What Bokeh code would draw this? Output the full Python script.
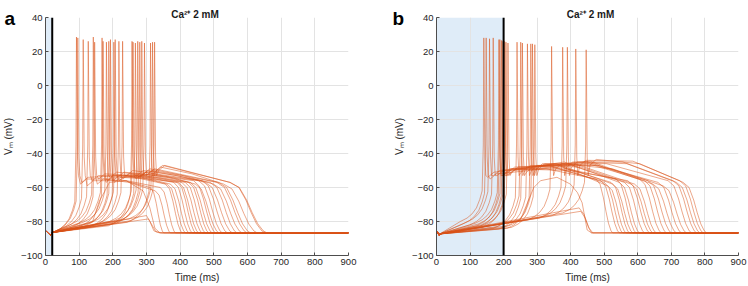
from bokeh.plotting import figure
from bokeh.layouts import row
from bokeh.models import Range1d, FixedTicker, Span, Label
from bokeh.embed import file_html
from bokeh.resources import INLINE

# ---------------------------------------------------------------- data
X_TICKS = [0, 100, 200, 300, 400, 500, 600, 700, 800, 900]
Y_TICKS = [-100, -80, -60, -40, -20, 0, 20, 40]
TITLE = "Ca²⁺ 2 mM"
REST = -86.7

# panel a: stimulation window 0-20 ms
A_STIM_END = 20
A_START_T = [0, 15, 20]
A_START_V = [-85.3, -88.2, -86.5]
A_SPIKE_T = [92, 96, 112, 127, 142, 146, 168, 171, 181, 188, 193, 203, 207,
             218, 229, 257, 260, 267, 274, 280, 286, 294, 312, 318, 324]
A_PEAK = [28.5, 28, 27, 26, 28.5, 25.5, 28, 26, 25.5, 26, 27, 25.5, 27,
          26, 26, 26, 25.5, 25, 26, 25.5, 26, 25, 25, 25.5, 25.5]
# membrane potential where the pre-spike depolarisation leaves the ramp
A_KNEE = [-86.5, -86, -84.5, -83.5, -82, -83.5, -81, -83, -80.5, -82.5, -81.5, -83, -80.5,
          -82, -81, -82.5, -80, -81.5, -79.5, -81, -80, -79, -80.5, -78.5, -79.5]
A_PLAT_START = [-55, -54, -56, -53, -55, -52, -54, -53, -51, -53, -54, -51, -53,
                -52, -50, -52, -50, -51, -50, -49, -50, -49, -48, -47, -47]
A_PLAT_MID = [-55, -53, -56, -53, -57, -53, -54, -54, -53, -54, -55, -53, -54,
              -54, -53, -54, -53, -54, -53, -53, -53, -53, -52, -52, -52]
A_PLAT_END = [-60, -58, -60, -57, -62, -57, -58, -58, -56, -57, -57, -56, -57,
              -57, -56, -57, -57, -58, -57, -57, -58, -57, -58, -57, -57]
A_END_T = [351, 406, 386, 436, 371, 465, 416, 426, 505, 446, 455, 525, 475,
           485, 540, 495, 569, 515, 555, 599, 584, 609, 629, 653, 658]
A_FALL = [40, 50, 45, 55, 45, 60, 55, 55, 65, 55, 60, 70, 60,
          60, 75, 65, 80, 70, 80, 90, 85, 95, 100, 105, 110]
# subthreshold responses (no spike)
A_SUB_T = [[20, 300, 310, 322, 338],
           [20, 306, 316, 328, 346],
           [20, 140, 160, 190, 240, 290, 310, 325, 340]]
A_SUB_V = [[-86.5, -76.5, -80, -85.5, REST],
           [-86.5, -78.5, -82, -86, REST],
           [-86.5, -80, -68, -57, -56, -62, -72, -84, REST]]

# panel b: stimulation window 0-200 ms
B_STIM_END = 200
B_START_T = [0, 8, 10]
B_START_V = [-85.3, -88, -87.3]
B_SPIKE_T = [141, 148, 158, 169, 186, 189, 194, 198, 203, 207, 213, 240,
             251, 256, 271, 281, 286, 293, 343, 376, 390, 415, 446]
B_PEAK = [28, 28, 27.5, 28, 27, 27, 26.5, 26, 26, 25.5, 25, 25.5,
          25.5, 25, 24.5, 24.5, 24.5, 24, 23, 22.5, 22.5, 21.5, 21]
B_KNEE = [-80, -81.5, -80.5, -82, -81, -82.5, -81.5, -83, -82, -83.5, -82, -84,
          -83, -84.5, -83.5, -84, -82.5, -83.5, -79, -78, -77, -76.5, -75]
B_PLAT_START = [-51, -52, -50, -50, -50, -49, -49, -50, -48, -49, -48, -48,
                -47, -48, -47, -47, -46, -46, -46, -45, -45, -44, -43.5]
B_PLAT_MID = [-47, -49, -46, -48, -45, -47, -50, -48, -46, -49, -47, -45,
              -48, -46, -47, -44.5, -47, -46, -49, -45, -46, -44.5, -46]
B_PLAT_END = [-57, -55, -58, -56, -57, -59, -56, -57, -58, -55, -57, -56,
              -58, -56, -57, -55, -58, -56, -59, -56, -57, -56, -57]
B_END_T = [555, 525, 585, 545, 605, 565, 635, 575, 655, 595, 620, 700,
           645, 685, 730, 670, 715, 760, 745, 775, 785, 795, 805]
B_FALL = [55, 50, 60, 55, 60, 55, 65, 55, 65, 60, 60, 70,
          65, 65, 70, 65, 70, 70, 70, 70, 70, 70, 70]
B_SUB_T = [[10, 425, 440, 452, 462],
           [10, 430, 443, 455, 466],
           [10, 250, 271, 290, 310, 359, 399, 420, 434, 449, 462]]
B_SUB_V = [[-87.3, -72, -76, -83, REST],
           [-87.3, -74, -78, -84, REST],
           [-87.3, -79, -69, -60, -56, -54, -58, -63, -69, -85, REST]]

# ---------------------------------------------------------------- trace shape
# pre-spike depolarisation vertices relative to spike time / knee potential
PRE_DT = [-70, -50, -35, -22, -12, -5]
PRE_DV = [0, 2, 4.5, 8, 13, 18]
# repolarisation profile: fraction of fall duration -> fraction of drop
FALL_TF = [0, 0.25, 0.45, 0.6, 0.75, 0.9, 1.0]
FALL_VF = [0, 0.1, 0.35, 0.6, 0.82, 0.96, 1.0]

TRACE_COLOR = "#D95319"
FONT = "Liberation Sans"


def spiking_trace(start_t, start_v, ts, peak, knee, p1, pm, p2, te, fall):
    t = list(start_t)
    v = list(start_v)
    for dt, dv in zip(PRE_DT, PRE_DV):
        if ts + dt > start_t[-1] + 1:
            t.append(ts + dt)
            v.append(knee + dv)
    t += [ts - 1.5, ts, ts + 1.2, ts + 3, ts + 6, ts + 12, ts + 30]
    v += [-35, peak, 0, -42, -53, p1 - 3, p1]
    fs = te - fall
    t += [(ts + 30 + fs) / 2]
    v += [pm]
    for tf, vf in zip(FALL_TF, FALL_VF):
        t.append(fs + tf * fall)
        v.append(p2 + vf * (REST - p2))
    t.append(900)
    v.append(REST)
    return t, v


def collect(start_t, start_v, spike_t, peak, knee, p1, pm, p2, end_t, fall, sub_t, sub_v):
    xs, ys = [], []
    for i in range(len(spike_t)):
        t, v = spiking_trace(start_t, start_v, spike_t[i], peak[i], knee[i],
                             p1[i], pm[i], p2[i], end_t[i], fall[i])
        xs.append(t)
        ys.append(v)
    for st, sv in zip(sub_t, sub_v):
        xs.append(list(start_t[:-1]) + st + [900])
        ys.append(list(start_v[:-1]) + sv + [REST])
    return xs, ys


def make_panel(left, right, stim_end, title_x, xs, ys):
    p = figure(width=374, height=286, output_backend="svg", toolbar_location=None,
               x_range=Range1d(0, 900), y_range=Range1d(-100, 40),
               min_border_left=left, min_border_right=right,
               min_border_top=17, min_border_bottom=31)
    p.outline_line_color = None
    p.background_fill_color = "white"
    p.border_fill_color = "white"

    # stimulation window
    p.quad(left=[0], right=[stim_end], bottom=[-100], top=[40],
           fill_color="#DFECF8", line_color=None, level="image")

    p.multi_line(xs, ys, line_color=TRACE_COLOR, line_width=0.65, line_alpha=0.78)

    p.add_layout(Span(location=stim_end, dimension="height",
                      line_color="black", line_width=2))

    for ax in (p.xaxis[0], p.yaxis[0]):
        ax.axis_line_color = "#4D4D4D"
        ax.major_tick_line_color = "#4D4D4D"
        ax.major_tick_in = 3
        ax.major_tick_out = 0
        ax.minor_tick_line_color = None
        ax.major_label_text_font = FONT
        ax.major_label_text_font_size = "9.5px"
        ax.major_label_text_color = "#262626"
        ax.axis_label_text_font = FONT
        ax.axis_label_text_font_size = "10px"
        ax.axis_label_text_font_style = "normal"
        ax.axis_label_text_color = "#262626"
        ax.major_label_standoff = 3
        ax.axis_label_standoff = 4
    p.xaxis.ticker = FixedTicker(ticks=X_TICKS)
    p.yaxis.ticker = FixedTicker(ticks=Y_TICKS)
    p.xaxis.axis_label = "Time (ms)"
    p.yaxis.axis_label = "Vₘ (mV)"
    p.xgrid.ticker = FixedTicker(ticks=X_TICKS)
    p.ygrid.ticker = FixedTicker(ticks=Y_TICKS)
    p.grid.grid_line_color = "#E3E3E3"
    p.grid.grid_line_width = 1

    # title in the band above the frame
    p.add_layout(Label(x=title_x, y=3, x_units="screen", y_units="screen",
                       text=TITLE, text_font=FONT, text_font_size="10px",
                       text_font_style="bold", text_align="center",
                       text_baseline="alphabetic", text_color="#1a1a1a"), "above")
    return p


def letter_label(text, x, y):
    return Label(x=x, y=y, x_units="screen", y_units="screen", text=text,
                 text_font=FONT, text_font_size="19px", text_font_style="bold",
                 text_align="left", text_baseline="alphabetic", text_color="black")


a_xs, a_ys = collect(A_START_T, A_START_V, A_SPIKE_T, A_PEAK, A_KNEE, A_PLAT_START,
                     A_PLAT_MID, A_PLAT_END, A_END_T, A_FALL, A_SUB_T, A_SUB_V)
b_xs, b_ys = collect(B_START_T, B_START_V, B_SPIKE_T, B_PEAK, B_KNEE, B_PLAT_START,
                     B_PLAT_MID, B_PLAT_END, B_END_T, B_FALL, B_SUB_T, B_SUB_V)

pa = make_panel(45, 26, A_STIM_END, 149.5, a_xs, a_ys)
pb = make_panel(62, 10, B_STIM_END, 154, b_xs, b_ys)

# panel letters: "a" rides in the free right margin of panel a,
# "b" in the spare left margin of panel b
pa.add_layout(letter_label("a", -344, 236.7), "right")
pb.add_layout(letter_label("b", 13, 236.7), "left")

layout = row(pa, pb)
open("out.html", "w").write(file_html(layout, INLINE))
